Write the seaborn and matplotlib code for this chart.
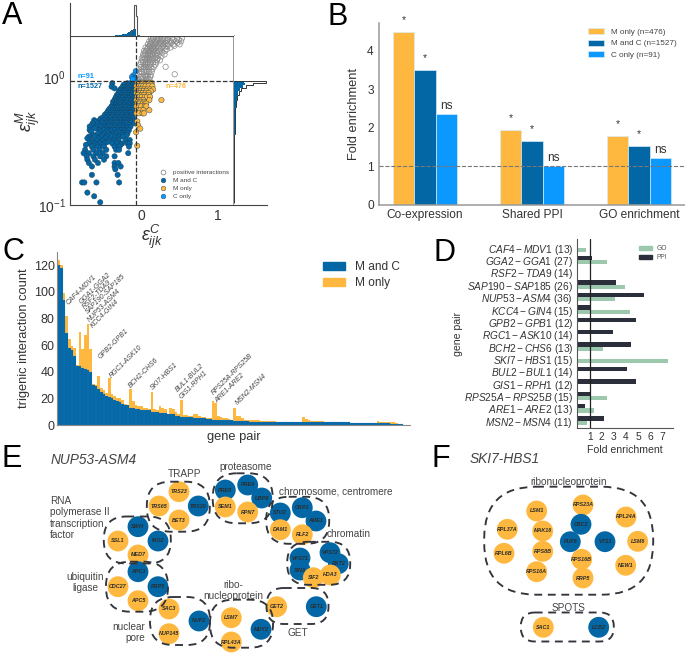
import numpy as np
import pandas as pd
import matplotlib
matplotlib.use('Agg')
import matplotlib.pyplot as plt
from matplotlib.lines import Line2D
from matplotlib.patches import FancyBboxPatch, Patch
import seaborn as sns

sns.set_style('white')
plt.rcParams['font.family'] = ['Liberation Sans', 'DejaVu Sans']
plt.rcParams['mathtext.fontset'] = 'custom'
plt.rcParams['mathtext.rm'] = 'Liberation Sans'
plt.rcParams['mathtext.it'] = 'Liberation Sans:italic'
plt.rcParams['mathtext.bf'] = 'Liberation Sans:bold'

W, H = 685, 654
ORANGE = '#FEB840'
BLUE = '#0367A6'
LIGHT = '#0B98FF'
TXT = '#333333'

# ---- panel A: epsilon M level -> epsilon C values
m_and_c_rows = {
    0.893: [-.39, -.19, -.15, -.12, -.10],
    0.87: [-.24, -.17, -.12],
    0.84: [-.40, -.25, -.22, -.19, -.16, -.13, -.10],
    0.815: [-.36, -.27, -.21, -.18, -.12, -.09],
    0.79: [-.29, -.26, -.23, -.20, -.17, -.14, -.11, -.09],
    0.77: [-.30, -.24, -.21, -.15, -.12],
    0.746: [-.31, -.28, -.25, -.22, -.19, -.16, -.13, -.10],
    0.72: [-.33, -.27, -.23, -.18, -.14, -.11],
    0.70: [-.34, -.31, -.28, -.25, -.22, -.19, -.16, -.13, -.10],
    0.68: [-.35, -.29, -.26, -.20, -.17, -.11],
    0.66: [-.36, -.33, -.30, -.27, -.24, -.21, -.18, -.15, -.12, -.09],
    0.64: [-.38, -.32, -.29, -.23, -.20, -.14, -.11],
    0.62: [-.37, -.34, -.31, -.28, -.25, -.22, -.19, -.16, -.13, -.10],
    0.60: [-.39, -.35, -.29, -.23, -.17, -.11],
    0.586: [-.40, -.36, -.33, -.30, -.27, -.24, -.21, -.18, -.15, -.12],
    0.57: [-.42, -.37, -.34, -.28, -.22, -.16, -.12],
    0.552: [-.44, -.38, -.35, -.32, -.29, -.26, -.23, -.20, -.17, -.14, -.11],
    0.535: [-.45, -.39, -.33, -.27, -.21, -.15, -.11],
    0.52: [-.47, -.41, -.37, -.34, -.31, -.28, -.25, -.22, -.19, -.16, -.13, -.10],
    0.505: [-.49, -.43, -.38, -.32, -.26, -.20, -.14],
    0.49: [-.50, -.45, -.40, -.36, -.33, -.30, -.27, -.24, -.21, -.18, -.15, -.12],
    0.475: [-.54, -.47, -.42, -.35, -.29, -.23, -.17, -.13],
    0.46: [-.63, -.56, -.50, -.44, -.40, -.36, -.33, -.30, -.27, -.24, -.21, -.18, -.14, -.10],
    0.448: [-.61, -.53, -.46, -.41, -.34, -.28, -.22, -.16, -.12],
    0.435: [-.65, -.58, -.52, -.47, -.43, -.39, -.35, -.31, -.27, -.23, -.19, -.15, -.10],
    0.42: [-.66, -.56, -.50, -.42, -.37, -.30, -.26, -.17],
    0.41: [-.69, -.60, -.54, -.48, -.44, -.40, -.36, -.32, -.28, -.24, -.20, -.15],
    0.397: [-.62, -.52, -.47, -.38, -.33, -.25, -.19],
    0.385: [-.69, -.56, -.50, -.45, -.40, -.36, -.31, -.27, -.22, -.17],
    0.375: [-.67, -.55, -.46, -.41, -.30, -.21],
    0.363: [-.58, -.50, -.44, -.38, -.33, -.28, -.24, -.19],
    0.352: [-.64, -.52, -.42, -.37, -.26, -.20],
    0.342: [-.70, -.62, -.54, -.46, -.40, -.35, -.30, -.25],
    0.332: [-.72, -.57, -.48, -.33],
    0.322: [-.68, -.60, -.52, -.43, -.36, -.31, -.21, -.16],
    0.312: [-.65, -.53, -.45, -.34],
    0.303: [-.70, -.62, -.56, -.49, -.39, -.32, -.26, -.19, -.16],
    0.295: [-.74, -.60, -.52, -.28],
    0.286: [-.66, -.58, -.50, -.36, -.30, -.17],
    0.27: [-.75, -.64, -.56, -.47, -.34, -.30],
    0.254: [-.77, -.70, -.60, -.52, -.18],
    0.24: [-.73, -.64, -.55, -.47, -.36],
    0.226: [-.72, -.62, -.50],
    0.213: [-.70, -.58, -.36, -.31],
    0.20: [-.66, -.36, -.28],
    0.19: [-.35],
    0.172: [-.66, -.32],
    0.15: [-.79, -.76, -.60, -.30],
    0.125: [-.72],
    0.117: [-.63],
    0.105: [-.55],
}
m_only_rows = {
    0.90: [-.06, -.03, 0, .03, .06, .10, .13],
    0.875: [-.05, 0, .04, .08, .12],
    0.85: [-.07, -.04, -.01, .02, .05, .09, .14],
    0.80: [-.07, -.04, -.01, .03, .07, .11, .15],
    0.775: [-.06, -.02, .02, .06, .12],
    0.75: [-.07, -.05, -.02, .01, .05, .09],
    0.725: [-.05, 0, .03, .09],
    0.70: [-.06, -.03, 0, .04, .07, .11],
    0.66: [-.07, -.04, -.01, .02, .10, .26],
    0.64: [-.05, -.02, .03],
    0.62: [-.06, -.03, .01, .04, .06],
    0.59: [-.07, -.04, -.01, .04, .06],
    0.55: [-.06, -.02, .02, .10],
    0.52: [-.07, -.04, .01, .03],
    0.45: [-.06],
    0.42: [-.05],
    0.395: [-.02],
    0.37: [-.075],
    0.29: [-.06],
}
c_only_rows = {1.11: [-.08], 1.03: [-.11], 1.0: [-.13], 0.98: [-.10], 0.97: [-.09], 0.96: [-.12]}
positive_rows = {
    0.96: [-.05, .0, .06, .10],
    1.0: [-.03, -.01, .02, .05, .08, .11],
    1.03: [-.06, .04, .07, .12],
    1.05: [.435],
    1.1: [-.03, 0, .03, .06, .10, .13],
    1.15: [-.04, .01, .05, .09, .14],
    1.2: [-.01, .03, .05, .08, .12, .16, .315],
    1.25: [-.02, .04, .07, .11, .18],
    1.3: [-.01, .02, .05, .08, .11, .15, .19],
    1.35: [.01, .06, .10, .13, .20, .24],
    1.4: [0, .04, .07, .10, .14, .17, .21],
    1.45: [.02, .08, .12, .19, .26],
    1.5: [.02, .05, .08, .11, .14, .18, .22, .30],
    1.55: [.04, .10, .16, .20, .27],
    1.6: [.03, .06, .09, .12, .15, .19, .23, .31],
    1.65: [.07, .13, .17, .25, .33],
    1.7: [.05, .08, .11, .14, .18, .22, .26, .30, .38],
    1.75: [.10, .16, .20, .28, .34, .43],
    1.8: [.08, .11, .15, .18, .22, .26, .30, .35, .42, .50],
    1.85: [.12, .19, .24, .32, .39, .47],
    1.9: [.10, .13, .17, .20, .24, .28, .33, .38, .45, .52],
    1.95: [.14, .21, .26, .34, .42, .49],
    2.0: [.12, .15, .19, .23, .27, .31, .35, .40, .47, .53],
}
# marginals of panel A (heights as read, in arbitrary counts)
top_blue = [1, 1, 1, 2, 2, 3, 3, 4, 5, 6, 7, 9, 11, 14, 17, 20, 22]
top_all_edges = [-.14, -.12, -.10, -.08, -.06, -.04]
top_all = [16, 20, 93, 60, 2]
right_edges = [.103, .25, .361, .487, .583, .657, .719, .777, .825, .866, .903, .936]
right_blue = [.5, 1, 2, 3, 5, 8, 12, 17, 25, 32, 30]
right_all = [.5, 1, 2, 3, 5, 9, 14, 22, 35, 57, 94]

# ---- panel B
assays = ['Co-expression', 'Shared PPI', 'GO enrichment']
m_only_fold = [4.5, 1.94, 1.79]
m_and_c_fold = [3.5, 1.65, 1.52]
c_only_fold = [2.35, 1.0, 1.2]
group_names = ['M only (n=476)', 'M and C (n=1527)', 'C only (n=91)']
significance = [['*', '*', '*'], ['*', '*', '*'], ['ns', 'ns', 'ns']]

# ---- panel C
m_and_c_count = [120, 118, 94, 69, 58, 56, 52, 44, 44, 43, 42, 41, 40, 30, 29, 27, 25, 23, 22, 21,
                 20, 19, 18, 17, 16, 15, 15, 13, 13, 12, 12, 11.5, 11, 11, 11, 10, 10, 10, 9, 9,
                 9, 8, 8, 8, 7, 7, 6, 6, 6, 6, 6, 5.5, 5, 5, 5, 5, 4.5, 4.5, 4, 4,
                 4, 4, 3.5, 3.5, 3.5, 3.5, 3, 3, 3, 3, 3, 3, 2.5, 2.5, 2.5, 2.5, 2.5, 2.5, 2.5, 2.5,
                 2.5, 2.5, 2, 2, 2, 2, 2, 2, 2, 2, 2, 2, 2, 2, 2, 2, 2, 2, 2, 2,
                 2, 2, 2, 2, 2, 2, 2, 2, 2, 2, 1.5, 1.5, 1.5, 1.5, 1.5, 1.5, 1.5, 1.5, 1.5, 1.5,
                 1.5, 1.5, 1.5, 1.5, 1.5, 1, 1, 1, 1, 1]
m_only_count = [4, 2, 5, 13, 7, 3, 6, 1, 26, 14, 26, 35, 17, 1, 1, 10, 3, 3, 2, 14,
                3, 3, 2, 3, 3, 1, 0, 14, 5, 3, 2, 2.5, 2, 2, 1, 15, 2, 1, 5, 4,
                3, .5, 5, 4, 3, 1, 13, 1.5, 1.5, 1, .5, 2.5, 3, 1.5, 1, 1, 1, .5, 14.3, 12.5,
                2.8, 1.7, 1.5, 1.5, 1, .5, 10, 3.8, 3.5, 2, 1, 1, 1, 1, 1, 1, .5, .5, .5, .5,
                .5, .5, 0, 0, 0, 0, 0, 0, 0, 0, 0, 0, 4, 2.5, 2, 1, 1, 1, 1, 1,
                .5, .5, .5, .5, .5, .5, .5, .5, .5, .5, 0, 0, 0, 0, 0, 0, 0, 0, 0, 0,
                1.5, 1, .5, .5, .5, 1, 1, .5, 0, 0]

# ---- panel D
pair_labels = [r'$CAF4 - MDV1$ (13)', r'$GGA2 - GGA1$ (27)', r'$RSF2 - TDA9$ (14)',
               r'$SAP190 - SAP185$ (26)', r'$NUP53 - ASM4$ (36)', r'$KCC4 - GIN4$ (15)',
               r'$GPB2 - GPB1$ (12)', r'$RGC1 - ASK10$ (14)', r'$BCH2 - CHS6$ (13)',
               r'$SKI7 - HBS1$ (15)', r'$BUL2 - BUL1$ (14)', r'$GIS1 - RPH1$ (12)',
               r'$RPS25A - RPS25B$ (15)', r'$ARE1 - ARE2$ (13)', r'$MSN2 - MSN4$ (11)']
ppi_fold = [0, 1.18, 0, 3.15, 5.5, 1.07, 4.8, 2.9, 4.4, 0, 4.1, 4.8, 1.07, 0.6, 2.2]
go_fold = [0.7, 2.4, 0, 3.9, 3.05, 4.3, 0, 0, 2.1, 7.4, 0, 0, 2.46, 1.4, 0.8]

# ---- panels E and F: name, colour class, position on the page
node_names = ['TRS23', 'TRS65', 'TRS20', 'BET3', 'SWI4', 'SSL1', 'INO2', 'MED7', 'APC3', 'CDC27', 'RSP5',
              'APC5', 'SAC3', 'NUP2', 'NUP145', 'PRE8', 'PRE9', 'UBP6', 'SEM1', 'RPN7', 'STU2', 'OKP1',
              'AME1', 'DAM1', 'RLF2', 'VPS71', 'SIN3', 'VPS72', 'RXT2', 'SIF2', 'HDA3', 'GET2', 'GET1',
              'LSM7', 'MDY2', 'RPL43A',
              'RPS23A', 'CBC2', 'LSM1', 'MAK16', 'RPL37A', 'RPL6B', 'RPS8B', 'RPS16A', 'PUF6', 'VTS1',
              'RPL24A', 'LSM6', 'NEW1', 'RPS16B', 'RRP5', 'SAC1', 'LCB2']
node_kind = ['M only', 'M only', 'M and C', 'M only', 'M and C', 'M only', 'M and C', 'M only', 'M and C',
             'M only', 'M and C', 'M only', 'M only', 'M and C', 'M only', 'M and C', 'M and C', 'M and C',
             'M only', 'M only', 'M and C', 'M and C', 'M and C', 'M only', 'M only', 'M and C', 'M and C',
             'M and C', 'M and C', 'M only', 'M only', 'M only', 'M and C', 'M only', 'M and C', 'M only',
             'M only', 'M and C', 'M only', 'M only', 'M only', 'M only', 'M only', 'M only', 'M and C',
             'M and C', 'M only', 'M only', 'M only', 'M only', 'M only', 'M only', 'M and C']
node_x = [179, 159, 198.3, 179, 138, 118, 158, 138, 138, 118, 158, 138, 169, 199, 169, 225.3, 247.7, 261.7,
          225.3, 247.7, 280.3, 302.3, 316, 280.3, 302.3, 300, 300, 330, 338.3, 313.3, 330.3, 276.7, 316.3,
          231.3, 261, 231.3,
          583, 581, 536.7, 542.7, 507.3, 504, 542.7, 536.7, 570.3, 605, 626, 637.7, 625.7, 581.7, 583,
          543.3, 598.7]
node_y = [491.7, 506, 506, 520, 526.7, 541, 541, 555, 571.7, 586.7, 586.7, 600.7, 609, 621, 633.7, 490, 485,
          498, 507, 512, 513, 507.7, 521, 529.7, 534.7, 558, 570, 552.7, 563.7, 577.7, 575, 606.7, 606.7,
          617.7, 629.3, 642,
          505, 524.3, 511, 531, 529.3, 553.3, 551.3, 571.7, 541.7, 541.7, 517, 541.3, 565.3, 559.3, 578,
          627.3, 627.3]
# dashed outlines: centre x, centre y, width, height
blob_boxes = [(178.3, 506.7, 63, 50), (137.3, 540, 67, 47), (137, 586.7, 62, 50), (180, 621, 60, 48),
              (242.7, 498.3, 60, 50), (297.7, 520.3, 63, 47), (318.7, 563.3, 63, 43), (241.5, 623.7, 63, 48),
              (297.5, 606, 62, 36), (568.7, 540.7, 169, 108), (567.3, 627, 93, 29)]
group_labels = [('TRAPP', 184, 474), ('proteasome', 245.7, 466.7), ('chromosome, centromere', 336, 491.7),
                ('chromatin', 348.3, 534.3), ('ubiquitin\nligase', 85, 582.5), ('ribo-\nnucleoprotein', 233, 590.5),
                ('GET', 298, 633.3), ('ribonucleoprotein', 568.3, 481.7), ('SPOTS', 569, 608.3)]


def ax_px(left, top, right, bottom, **kw):
    return fig.add_axes([left / W, 1 - bottom / H, (right - left) / W, (bottom - top) / H], **kw)


def ftext(x, y, s, **kw):
    kw.setdefault('color', TXT)
    return fig.text(x / W, 1 - y / H, s, **kw)


def rows_to_frame(rows, name):
    recs = [(x, y, name) for y, xs in rows.items() for x in xs]
    return pd.DataFrame(recs, columns=['eps_c', 'eps_m', 'group'])


fig = plt.figure(figsize=(W / 100, H / 100), dpi=100)

# ==== A ====
ax = ax_px(70, 36, 234, 205)
scatter_df = pd.concat([rows_to_frame(positive_rows, 'positive interactions'),
                        rows_to_frame(m_and_c_rows, 'M and C'),
                        rows_to_frame(m_only_rows, 'M only'),
                        rows_to_frame(c_only_rows, 'C only')])
sns.scatterplot(data=scatter_df[scatter_df.group == 'positive interactions'], x='eps_c', y='eps_m',
                s=15, facecolor='none', edgecolor='#8a8a8a', linewidth=0.5, ax=ax, legend=False)
palette_a = {'M and C': BLUE, 'M only': ORANGE, 'C only': LIGHT}
sns.scatterplot(data=scatter_df[scatter_df.group != 'positive interactions'], x='eps_c', y='eps_m',
                hue='group', palette=palette_a, s=15, edgecolor='#1c3d55', linewidth=0.3, ax=ax, legend=False)
ax.set_yscale('log')
ax.set_xlim(-0.95, 1.22)
ax.set_ylim(0.1, 2.09)
ax.set_xticks([0, 1])
ax.set_yticks([0.1, 1])
ax.minorticks_off()
ax.tick_params(length=0, labelsize=10, labelcolor=TXT, pad=3)
ax.axvline(-0.08, color='#333333', ls='--', lw=0.9)
ax.axhline(0.93, color='#333333', ls='--', lw=0.9)
ax.set_xlabel(r'$\varepsilon_{ijk}^{C}$', fontsize=13, color=TXT, labelpad=0)
ax.set_ylabel(r'$\varepsilon_{ijk}^{M}$', fontsize=13, color=TXT, labelpad=-3)
for side in ['left', 'bottom', 'top']:
    ax.spines[side].set_color('#444444')
    ax.spines[side].set_linewidth(0.8)
ax.spines['right'].set_color('#888888')
ax.spines['right'].set_linewidth(1.2)
ftext(78, 76, 'n=91', color=LIGHT, fontsize=5.2, fontweight='bold', va='center')
ftext(78, 86, 'n=1527', color=BLUE, fontsize=5.2, fontweight='bold', va='center')
ftext(165, 86, 'n=476', color=ORANGE, fontsize=5.2, fontweight='bold', va='center')
handles_a = [Line2D([], [], ls='', marker='o', ms=3.4, mfc='none', mec='#777777', mew=0.5),
             Line2D([], [], ls='', marker='o', ms=3.4, mfc=BLUE, mec='#1c3d55', mew=0.3),
             Line2D([], [], ls='', marker='o', ms=3.4, mfc=ORANGE, mec='#1c3d55', mew=0.3),
             Line2D([], [], ls='', marker='o', ms=3.4, mfc=LIGHT, mec='#1c3d55', mew=0.3)]
ax.legend(handles_a, ['positive interactions', 'M and C', 'M only', 'C only'], frameon=False, fontsize=4.6,
          loc='lower left', bbox_to_anchor=(0.526, 0.035), labelspacing=0.4, handletextpad=0.65,
          labelcolor='#444444', borderpad=0, borderaxespad=0)

ax_top = ax_px(70, 3, 234, 36)
ax_top.stairs(top_blue, np.linspace(-0.42, -0.08, 18), fill=True, color=BLUE)
ax_top.stairs(top_all, top_all_edges, color='#555555', lw=0.8)
ax_top.set_xlim(-0.95, 1.22)
ax_top.set_ylim(0, 100)
ax_top.set_xticks([])
ax_top.set_yticks([])
sns.despine(ax=ax_top, top=True, right=True, bottom=True)
ax_top.spines['left'].set_color('#444444')
ax_top.spines['left'].set_linewidth(0.8)

ax_right = ax_px(234, 36, 267, 205)
ax_right.set_yscale('log')
ax_right.stairs(right_blue, right_edges, orientation='horizontal', fill=True, color=BLUE)
ax_right.stairs(right_all, right_edges, orientation='horizontal', color='#333333', lw=0.7)
ax_right.set_ylim(0.1, 2.09)
ax_right.set_xlim(0, 97)
ax_right.minorticks_off()
ax_right.set_xticks([])
ax_right.set_yticks([])
sns.despine(ax=ax_right, top=True, right=True, left=True)
ax_right.spines['bottom'].set_color('#444444')
ax_right.spines['bottom'].set_linewidth(0.8)

# ==== B ====
ax = ax_px(378.7, 22.7, 685, 204.5)
fold_df = pd.DataFrame({'assay': assays * 3,
                        'fold': m_only_fold + m_and_c_fold + c_only_fold,
                        'group': np.repeat(group_names, 3)})
sns.barplot(data=fold_df, x='assay', y='fold', hue='group', hue_order=group_names,
            palette=[ORANGE, BLUE, LIGHT], saturation=1, width=0.6, gap=0,
            edgecolor='#d8ecf8', linewidth=0.5, ax=ax)
for cont, sigs in zip(ax.containers, significance):
    for bar, s in zip(cont, sigs):
        ax.annotate(s, (bar.get_x() + bar.get_width() / 2, bar.get_height()),
                    xytext=(0, 1.5 if s == 'ns' else 5), textcoords='offset points', ha='center', va='bottom',
                    fontsize=8.6 if s == 'ns' else 7.5, color=TXT)
ax.axhline(1, color='#777777', ls='--', lw=0.8)
ax.set_xlim(-0.433, 2.43)
ax.set_ylim(0, 4.73)
ax.set_yticks([0, 1, 2, 3, 4])
ax.set_xlabel('')
ax.set_ylabel('Fold enrichment', fontsize=9.3, color=TXT, labelpad=5)
ax.tick_params(length=0, labelsize=8.6, labelcolor=TXT)
sns.despine(ax=ax)
ax.spines['left'].set_color('#999999')
ax.spines['bottom'].set_color('#999999')
ax.spines['left'].set_linewidth(1.1)
ax.spines['bottom'].set_linewidth(1.1)
ax.legend(frameon=False, fontsize=5.9, loc='upper left', bbox_to_anchor=(0.683, 0.971), labelspacing=0.46,
          handlelength=1.95, handleheight=0.75, handletextpad=0.85, labelcolor='#444444', borderpad=0, borderaxespad=0)

# ==== C ====
ax = ax_px(57.5, 252, 410, 425)
pair_idx = np.arange(len(m_and_c_count))
total_count = np.array(m_and_c_count) + np.array(m_only_count)
sns.barplot(x=pair_idx, y=total_count, color=ORANGE, saturation=1, width=1, linewidth=0, ax=ax)
sns.barplot(x=pair_idx, y=m_and_c_count, color=BLUE, saturation=1, width=1, edgecolor='#3f8cc0', linewidth=0.1, ax=ax)
ax.set_xlim(-0.5, 132)
ax.set_ylim(0, 130)
ax.set_xticks([])
ax.set_yticks([0, 20, 40, 60, 80, 100, 120])
ax.tick_params(length=0, labelsize=9, labelcolor=TXT, pad=2)
ax.set_xlabel('gene pair', fontsize=9.3, color=TXT, labelpad=4)
ax.set_ylabel('trigenic interaction count', fontsize=9.3, color=TXT, labelpad=3)
sns.despine(ax=ax)
ax.spines['left'].set_color('#888888')
ax.spines['bottom'].set_color('#888888')
ax.legend(handles=[Patch(color=BLUE, label='M and C'), Patch(color=ORANGE, label='M only')], frameon=False,
          fontsize=8.6, loc='upper left', bbox_to_anchor=(0.753, 0.948), labelspacing=0.35, handlelength=1.84,
          handletextpad=0.84, labelcolor=TXT, borderpad=0, borderaxespad=0)
gene_tags = [('CAF4-MDV1', 68.3, 305), ('GGA1-GGA2', 81.7, 303.5), ('RSF2-TDA9', 84.5, 309), ('SAP190-SAP185', 87.5, 314),
             ('NUP53-ASM4', 90, 322.5), ('KCC4-GIN4', 92.5, 328.5), ('GPB2-GPB1', 101, 359), ('RGC1-ASK10', 111.7, 378.5),
             ('BCH2-CHS6', 130.7, 388), ('SKI7-HBS1', 152.3, 390), ('BUL1-BUL2', 178, 392), ('GIS1-RPH1', 182, 399),
             ('RPS25A-RPS25B', 214, 395), ('ARE1-ARE2', 217, 403), ('MSN2-MSN4', 238, 405)]
for tag, tx, ty in gene_tags:
    ftext(tx, ty, tag, fontsize=5, style='italic', rotation=45, rotation_mode='anchor', ha='left', va='baseline',
          color='#444444')

# ==== D ====
ax = ax_px(577.4, 239, 673, 428)
enrich_df = pd.DataFrame({'pair': pair_labels * 2, 'fold': ppi_fold + go_fold,
                          'kind': ['PPI'] * len(ppi_fold) + ['GO'] * len(go_fold)})
sns.barplot(data=enrich_df, y='pair', x='fold', hue='kind', hue_order=['PPI', 'GO'],
            palette={'PPI': '#2B2E3B', 'GO': '#9CC8AE'}, saturation=1, width=0.7, gap=0, linewidth=0, ax=ax)
ax.axvline(1, color='#222222', lw=0.9)
ax.set_xlim(0, 7.85)
ax.set_ylim(14.58, -0.70)
ax.set_xticks([1, 2, 3, 4, 5, 6, 7])
ax.tick_params(length=0, labelsize=7.4, labelcolor=TXT, pad=3)
ax.tick_params(axis='y', labelsize=7.3, pad=3)
ax.set_xlabel('Fold enrichment', fontsize=7.6, color=TXT, labelpad=2)
ax.set_ylabel('gene pair', fontsize=7.6, color=TXT, labelpad=1)
sns.despine(ax=ax)
ax.spines['left'].set_color('#555555')
ax.spines['bottom'].set_color('#555555')
handles_d = [Patch(color='#9CC8AE', label='GO'), Patch(color='#2B2E3B', label='PPI')]
ax.legend(handles=handles_d, frameon=False, fontsize=4.8, loc='upper left', bbox_to_anchor=(0.644, 0.968),
          labelspacing=0.35, handlelength=1.95, handleheight=0.6, handletextpad=0.75, labelcolor='#555555',
          borderpad=0, borderaxespad=0)

# ==== E / F networks ====
net = fig.add_axes([0, 0, 1, 1], zorder=5)
net.patch.set_alpha(0)
node_df = pd.DataFrame({'gene': node_names, 'kind': node_kind, 'x': node_x, 'y': node_y})
sns.scatterplot(data=node_df, x='x', y='y', hue='kind', palette={'M only': ORANGE, 'M and C': BLUE},
                s=225, linewidth=0, legend=False, ax=net, zorder=2)
net.set_xlim(0, W)
net.set_ylim(H, 0)
net.axis('off')
for cx, cy, bw, bh in blob_boxes:
    rounding = min(bw, bh) * 0.48
    net.add_patch(FancyBboxPatch((cx - bw / 2, cy - bh / 2), bw, bh, boxstyle=f'round,pad=0,rounding_size={rounding}',
                                 fill=False, ec='#33343C', lw=1.35, ls=(0, (4.2, 3)), zorder=3))
for gene, gx, gy in zip(node_names, node_x, node_y):
    net.text(gx, gy, gene, fontsize=3.9, fontweight='bold', style='italic', ha='center', va='center',
             color='#2c2c2c', zorder=4)
for lab, lx, ly in group_labels:
    ftext(lx, ly, lab, fontsize=7.2, ha='center', va='center', color='#444444', linespacing=1.15, zorder=6)
ftext(50, 518, 'RNA\npolymerase II\ntranscription\nfactor', fontsize=7.2, ha='left', va='center', color='#444444',
      linespacing=1.15)
ftext(145, 632.5, 'nuclear\npore', fontsize=7.2, ha='right', va='center', color='#444444', linespacing=1.15)
ftext(51, 460, 'NUP53-ASM4', fontsize=9.9, style='italic', va='center', color='#444444')
ftext(470, 459, 'SKI7-HBS1', fontsize=9.9, style='italic', va='center', color='#444444')

for letter, lx, ly in [('A', 2, 24), ('B', 328, 25), ('C', 2, 260), ('D', 433, 261), ('E', 2, 467), ('F', 432, 467)]:
    ftext(lx, ly, letter, fontsize=22, color='black', va='baseline', ha='left')

fig.savefig('out.png', dpi=100)
